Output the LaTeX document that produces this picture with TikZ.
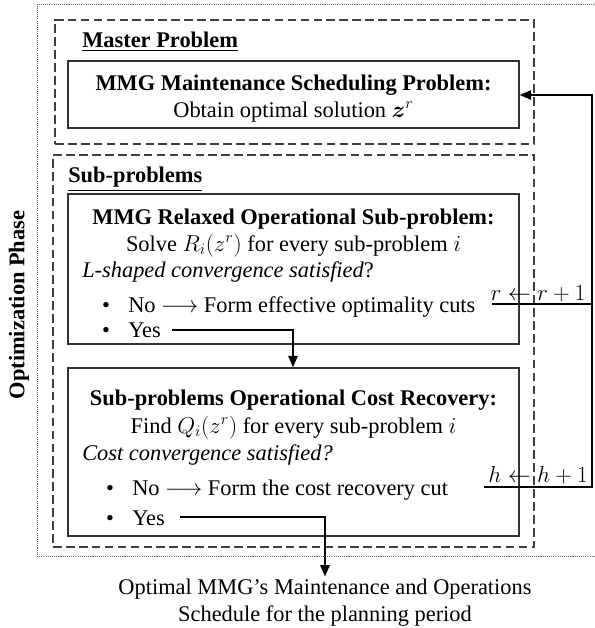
\documentclass[tikz,border=0pt]{standalone}
\usepackage{amsmath}
\usepackage{fontspec}
\setmainfont{Liberation Serif}
\usetikzlibrary{arrows.meta,fit}
\begin{document}
\begin{tikzpicture}[x=0.75pt,y=-0.75pt,
  every node/.style={font=\fontsize{16.8}{20}\selectfont, inner sep=0pt},
  outerbox/.style={draw=black!60, line width=0.6pt, dash pattern=on 0.8pt off 0.8pt},
  groupbox/.style={draw=black!75, line width=1.1pt, dash pattern=on 6.5pt off 3.2pt},
  stagebox/.style={draw=black!80, line width=1.1pt, inner sep=0pt},
  flow/.style={draw=black, line width=1.3pt, -{Triangle[length=8.5pt,width=7pt]}},
  plain/.style={draw=black, line width=1.3pt},
  title/.style={font=\fontsize{16.8}{20}\selectfont\bfseries, anchor=base},
  line/.style={anchor=base},
  leftline/.style={anchor=base west},
  bul/.style={anchor=base}]
\useasboundingbox (0,0) rectangle (595,628);

% frames
\node[outerbox, fit={(37,4) (605,556)}, inner sep=0pt] (outer) {};
\node[groupbox, fit={(55,20) (534,144)}, inner sep=0pt] (master) {};
\node[groupbox, fit={(53,155) (534,547)}, inner sep=0pt] (sub) {};
\node[stagebox, fit={(68,61) (519,128)}] (mmg) {};
\node[stagebox, fit={(68,194) (519,344)}] (relax) {};
\node[stagebox, fit={(68,368) (519,536)}] (cost) {};

% side label
\node[rotate=90, font=\fontsize{16.8}{20}\selectfont\bfseries] (phase) at (19,305) {Optimization Phase};

% master
\node[leftline, font=\fontsize{16.8}{20}\selectfont\bfseries] (mastertitle) at (82,47) {\underline{Master Problem}};
\node[title] (mmgtitle) at (293.5,90) {MMG Maintenance Scheduling Problem:};
\node[line] (mmgtext) at (293.5,117) {Obtain optimal solution $\boldsymbol{z}^{r}$};

% sub-problems
\node[leftline, font=\fontsize{16.8}{20}\selectfont\bfseries] (subtitle) at (68,182) {\underline{Sub-problems}};
\node[title] (relaxtitle) at (293.5,224) {MMG Relaxed Operational Sub-problem:};
\node[line] (relaxsolve) at (293.5,251) {Solve $R_i(z^r)$ for every sub-problem $i$};
\node[leftline] (relaxq) at (82,277) {\textit{L-shaped convergence satisfied}?};
\node[bul] (rb1) at (106,312) {\textbullet};
\node[leftline] (rno) at (128,312) {No $\longrightarrow$ Form effective optimality cuts};
\node[bul] (rb2) at (106,337) {\textbullet};
\node[leftline] (ryes) at (128,337) {Yes};

\node[title] (costtitle) at (293.5,405) {Sub-problems Operational Cost Recovery:};
\node[line] (costfind) at (293.5,433) {Find $Q_i(z^r)$ for every sub-problem $i$};
\node[leftline] (costq) at (82,460) {\textit{Cost convergence satisfied?}};
\node[bul] (cb1) at (110,495) {\textbullet};
\node[leftline] (cno) at (132,495) {No $\longrightarrow$ Form the cost recovery cut};
\node[bul] (cb2) at (110,525) {\textbullet};
\node[leftline] (cyes) at (132,525) {Yes};

% output
\node[align=center, anchor=north, inner sep=2pt, font=\fontsize{16.8}{20.2}\selectfont] (result) at (325,576.5)
  {Optimal MMG's Maintenance and Operations\\Schedule for the planning period};

% counters
\node[anchor=base] (rupd) at (538,300) {$r \leftarrow r+1$};
\node[anchor=base] (hupd) at (538,482) {$h \leftarrow h+1$};

% connectors
\coordinate (ryesend) at (172,330);
\coordinate (ryescorner) at (293,330);
\coordinate (cyesend) at (180,517);
\coordinate (cyescorner) at (325,517);
\coordinate (rstart) at (492,304);
\coordinate (hstart) at (484,487);
\coordinate (loopx) at (592,487);
\coordinate (loopr) at (592,304);
\coordinate (looptop) at (592,95);

\draw[flow] (ryesend) -- (ryescorner) -- (ryescorner |- cost.north);
\draw[flow] (cyesend) -- (cyescorner) -- (result.north);
\draw[flow] (hstart) -- (loopx) -- (looptop) -- (mmg.east |- looptop);
\draw[plain] (rstart) -- (loopr);
\end{tikzpicture}
\end{document}
